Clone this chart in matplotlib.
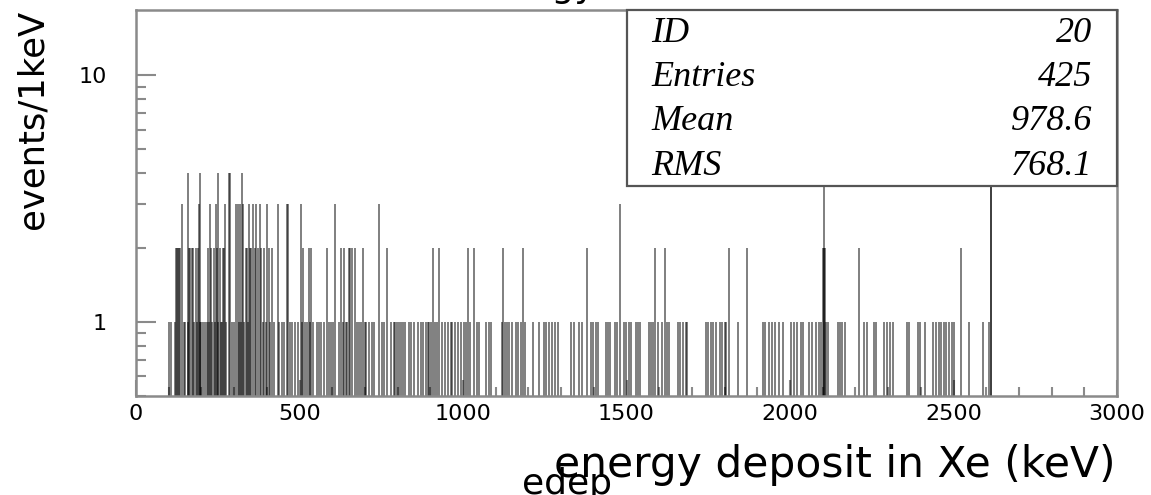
import numpy as np
import matplotlib.pyplot as plt
from matplotlib.patches import Rectangle
from matplotlib.ticker import FixedLocator, NullFormatter, FixedFormatter

# 1 keV bins, energy (keV) of each filled bin grouped by bin content
one_hit = [100, 107, 118, 146, 150, 158, 178, 186, 194, 199, 203, 209,
           216, 224, 233, 240, 250, 258, 261, 276, 292, 300, 314, 322,
           331, 342, 388, 396, 410, 420, 438, 445, 452, 470, 478, 487, 495,
           507, 516, 522, 532, 541, 553, 559, 566, 575, 590, 597, 603,
           619, 631, 642, 646, 676, 682, 689, 699, 703, 712, 720, 728, 751,
           759, 779, 788, 793, 798, 804, 811, 817, 823, 834, 841, 849, 862,
           871, 877, 885, 891, 897, 903, 913, 919, 936, 944, 953, 962, 967,
           975, 983, 992, 1003, 1009, 1022, 1041, 1049, 1070, 1078, 1086,
           1119, 1127, 1134, 1141, 1148, 1162, 1169, 1176, 1188, 1213, 1231,
           1246, 1254, 1262, 1271, 1282, 1291, 1330, 1338, 1355, 1362, 1391,
           1398, 1406, 1411, 1437, 1443, 1450, 1463, 1469, 1492, 1499, 1507,
           1514, 1528, 1534, 1541, 1569, 1575, 1582, 1596, 1608, 1624, 1630,
           1657, 1664, 1672, 1680, 1686, 1742, 1750, 1758, 1765, 1774, 1786,
           1793, 1800, 1804, 1839, 1916, 1924, 1935, 1945, 1955, 1967, 1977, 2003,
           2012, 2021, 2032, 2040, 2057, 2067, 2078, 2088, 2094, 2110, 2116,
           2145, 2152, 2160, 2169, 2226, 2236, 2256, 2263, 2287, 2296, 2305, 2314,
           2357, 2364, 2390, 2398, 2412, 2437, 2446, 2455, 2462, 2470, 2478, 2487,
           2494, 2502, 2547, 2590, 2609]
two_hits = [121, 124, 127, 131, 135, 162, 166, 170, 175, 183, 190, 220, 230, 238,
            247, 255, 265, 268, 335, 339, 348, 352, 362, 372, 383, 392, 405, 415,
            511, 528, 536, 584, 626, 636, 651, 655, 660, 668, 694, 767, 908, 927,
            1016, 1034, 1122, 1183, 1379, 1587, 1618, 1813, 1868, 2101, 2103,
            2106, 2211, 2523]
three_hits = [140, 193, 226, 245, 272, 305, 310, 318, 327, 345, 356, 368, 378,
              400, 433, 460, 464, 504, 608, 743, 1480]
four_hits = [159, 196, 251, 285, 288, 324, 2104]
peak_bins = [2614, 2615]
peak_counts = [9, 7]

stats_labels = ["ID", "Entries", "Mean", "RMS"]
stats_values = ["20", "425", "978.6", "768.1"]

counts = np.zeros(3000)
for level, bins in ((1, one_hit), (2, two_hits), (3, three_hits), (4, four_hits)):
    counts[bins] = level
counts[peak_bins] = peak_counts
filled = np.nonzero(counts)[0]
floor = 1e-3

W, H = 1151, 495
fig = plt.figure(figsize=(W / 100, H / 100), dpi=100)
plt.rcParams['font.family'] = ['DejaVu Sans']

ax = fig.add_axes([136 / W, 1 - 396 / H, 981 / W, 386 / H])
# every 1 keV bin is far below a pixel wide, so draw each filled bin as a line
ax.vlines(filled + 0.5, floor, counts[filled], color='black', lw=1.35, alpha=0.52)
ax.set_yscale('log')
ax.set_xlim(0, 3000)
ax.set_ylim(0.5, 18.4)

frame = '#8a8a8a'
for s in ax.spines.values():
    s.set_color(frame)
    s.set_linewidth(1.8)

ax.xaxis.set_major_locator(FixedLocator(np.arange(0, 3001, 500)))
ax.xaxis.set_minor_locator(FixedLocator(np.arange(0, 3001, 100)))
ax.yaxis.set_major_locator(FixedLocator([1, 10]))
ax.yaxis.set_major_formatter(FixedFormatter(["1", "10"]))
ax.yaxis.set_minor_locator(FixedLocator([0.5, 0.6, 0.7, 0.8, 0.9, 2, 3, 4, 5, 6, 7, 8, 9]))
ax.yaxis.set_minor_formatter(NullFormatter())
ax.tick_params(which='both', direction='in', color=frame, width=1.5,
               top=False, right=False, labelsize=16)
ax.tick_params(axis='y', which='major', length=14.5, pad=21)
ax.tick_params(axis='y', which='minor', length=7.5)
ax.tick_params(axis='x', which='major', length=11.5, pad=6)
ax.tick_params(axis='x', which='minor', length=6.5)

# statistics box in the upper right corner
fig.add_artist(Rectangle((627 / W, 1 - 186 / H), 490 / W, 176 / H,
                         transform=fig.transFigure, facecolor='white',
                         edgecolor='#555555', lw=1.6, zorder=5))
for i, (lab, val) in enumerate(zip(stats_labels, stats_values)):
    y = 1 - (33 + 44.5 * i) / H
    fig.text(651 / W, y, lab, family='Liberation Serif', style='italic',
             fontsize=26, va='center', ha='left', zorder=6)
    fig.text(1092 / W, y, val, family='Liberation Serif', style='italic',
             fontsize=26, va='center', ha='right', zorder=6)

fig.text(33 / W, 1 - 10 / H, "events/1keV", rotation=90, fontsize=25.5,
         ha='center', va='top')
fig.text(1115 / W, 1 - 465 / H, "energy deposit in Xe (keV)", fontsize=30.5,
         ha='right', va='center')
fig.text(522 / W, 1 - 484 / H, "edep", fontsize=26, ha='left', va='center')
fig.text(596 / W, 1 + 3 / H, "energy", fontsize=26, ha='right', va='baseline')

fig.savefig('out.png', dpi=100)
